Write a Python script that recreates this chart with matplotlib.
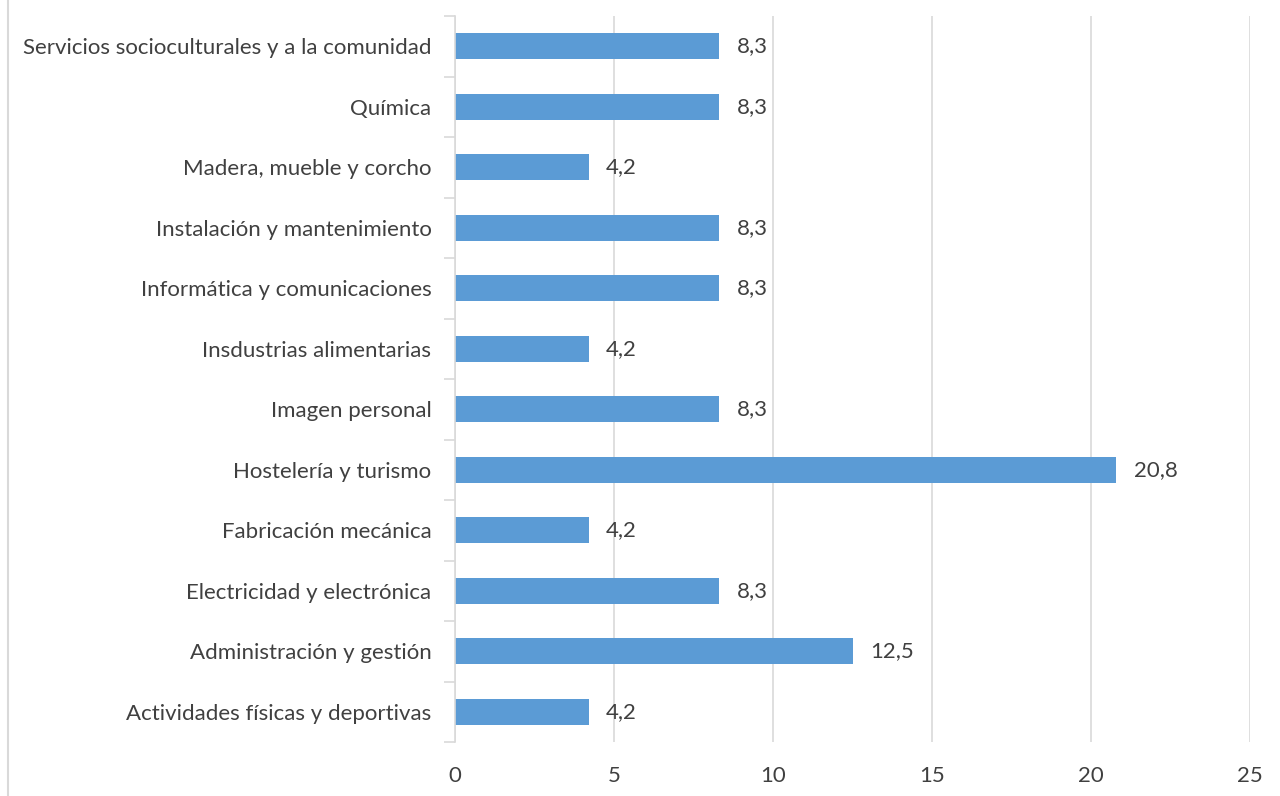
import numpy as np
import matplotlib.pyplot as plt
from matplotlib.lines import Line2D

familias = [
    "Actividades físicas y deportivas",
    "Administración y gestión",
    "Electricidad y electrónica",
    "Fabricación mecánica",
    "Hostelería y turismo",
    "Imagen personal",
    "Insdustrias alimentarias",
    "Informática y comunicaciones",
    "Instalación y mantenimiento",
    "Madera, mueble y corcho",
    "Química",
    "Servicios socioculturales y a la comunidad",
]
porcentajes = [4.2, 12.5, 8.3, 4.2, 20.8, 8.3, 4.2, 8.3, 8.3, 4.2, 8.3, 8.3]
ticks_x = [0, 5, 10, 15, 20, 25]

plt.rcParams['font.family'] = ['Lato', 'DejaVu Sans']
gris_texto = '#404040'
gris_linea = '#d9d9d9'

fig = plt.figure(figsize=(12.8, 7.96), dpi=100)
ax = fig.add_axes([455 / 1280, 1 - 742 / 796, (1250 - 455) / 1280, (742 - 16) / 796])

y = np.arange(len(familias))
ax.barh(y, porcentajes, height=0.43, color='#5b9bd5', zorder=2)

for yi, v in zip(y, porcentajes):
    ax.text(v + 0.55, yi, f"{v:.1f}".replace('.', ','), va='center', ha='left',
            fontsize=16, color=gris_texto)

ax.set_xlim(0, 25)
ax.set_ylim(-0.5, len(familias) - 0.5)
ax.set_xticks(ticks_x)
ax.set_xticklabels([str(t) for t in ticks_x], fontsize=16, color=gris_texto)
ax.set_yticks(y)
ax.set_yticklabels(familias, fontsize=16, color=gris_texto)
ax.tick_params(axis='x', length=0, pad=17)
ax.tick_params(axis='y', length=0, pad=17)

# marcas entre categorías
ax.set_yticks(np.arange(-0.5, len(familias)), minor=True)
ax.tick_params(axis='y', which='minor', length=8, color=gris_linea, width=1.2)

ax.grid(axis='x', color=gris_linea, linewidth=1.2, zorder=0)
for lado in ['top', 'right', 'bottom']:
    ax.spines[lado].set_visible(False)
ax.spines['left'].set_color(gris_linea)
ax.spines['left'].set_linewidth(1.2)

# borde izquierdo del gráfico
fig.add_artist(Line2D([8 / 1280, 8 / 1280], [0, 1], color=gris_linea, linewidth=1.5))

fig.savefig('out.png', dpi=100)
